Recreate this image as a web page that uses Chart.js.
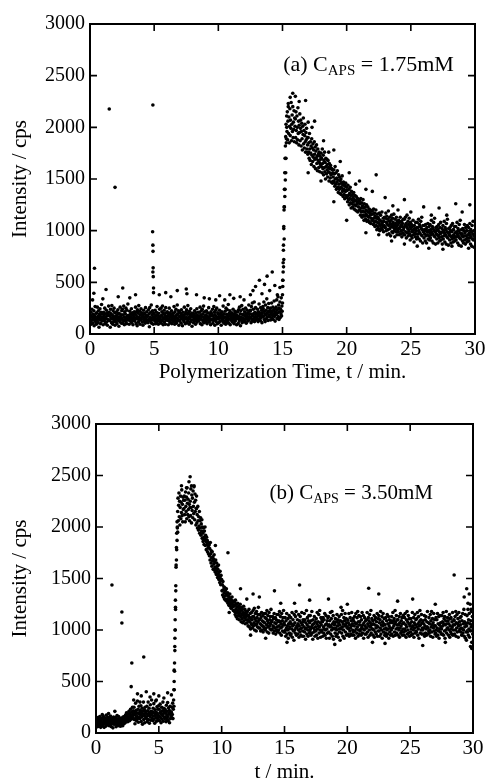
<!DOCTYPE html>
<html><head><meta charset="utf-8">
<script src="https://cdn.jsdelivr.net/npm/chart.js@4.4.1/dist/chart.umd.min.js"></script>
<style>
html,body{margin:0;padding:0;background:#fff;overflow:hidden;width:488px;height:779px;}
#ca{position:absolute;left:0;top:0;}
#cb{position:absolute;left:0;top:390px;}
</style></head><body>
<canvas id="ca" width="488" height="390"></canvas>
<canvas id="cb" width="488" height="400"></canvas>
<script>
// ---------- DATA ----------
// Tick labels
const timeTicks = [0, 5, 10, 15, 20, 25, 30];
const intensityTicks = [0, 500, 1000, 1500, 2000, 2500, 3000];

// Panel (a): C_APS = 1.75 mM. One row per minute (row m covers t = m ... m+1, samples evenly spaced).
const intensityA = [
[150,185,120,210,95,170,240,135,160,105,190,145,225,80,175,130,265,155,115,200, 95,205,140,260,170,110,225,155,65,190,135,245,175,100,210,150,285,125,195,160],
[165,90,210,140,185,125,250,160,100,195,150,230,115,175,85,205,140,180,270,130, 210,130,175,65,240,155,195,110,275,145,180,95,225,160,120,250,140,205,85,170],
[120,175,155,215,100,145,190,235,130,165,75,200,150,120,260,170,140,185,105,225, 150,240,105,185,130,270,165,90,215,140,195,120,250,160,100,230,175,135,290,145],
[180,135,95,160,220,150,125,195,170,245,110,155,140,205,90,185,130,165,215,150, 125,190,260,150,100,215,170,80,235,145,200,115,275,165,130,220,95,185,150,245],
[140,205,165,115,190,85,175,230,150,125,200,160,105,255,145,180,120,215,170,135, 175,110,235,140,195,70,255,160,125,210,150,280,105,185,135,225,165,95,200,145],
[190,160,125,230,150,100,175,210,140,265,120,185,155,95,200,170,135,240,160,115, 140,250,105,180,215,130,270,160,90,200,145,230,115,185,160,95,255,135,205,170],
[155,215,130,175,90,195,145,250,120,165,205,110,180,140,225,100,160,190,130,175, 200,120,265,150,95,215,170,130,240,105,185,155,280,125,195,140,225,85,170,210],
[125,170,200,145,105,235,160,185,80,150,210,135,175,120,260,155,190,100,145,215, 160,235,110,190,140,275,125,205,165,95,220,150,185,115,245,170,135,200,75,180],
[200,135,165,110,190,150,225,125,175,95,205,160,140,245,115,180,150,210,130,170, 130,210,150,260,100,185,145,225,170,90,240,135,195,120,270,160,110,215,175,140],
[160,120,185,225,140,100,170,205,150,130,255,165,115,195,145,175,90,215,135,180, 195,145,240,105,175,130,265,155,210,85,185,140,230,120,170,250,150,100,205,160],
[145,190,110,165,230,155,125,200,175,85,160,215,140,180,120,270,150,195,105,165, 120,220,165,95,250,140,190,110,235,160,130,285,175,105,200,145,225,90,180,155],
[170,130,205,150,115,185,240,140,165,100,195,155,220,125,175,145,210,90,180,160, 215,150,100,235,170,125,260,145,195,80,225,165,135,275,110,190,155,240,120,185],
[185,140,215,120,175,250,160,105,195,145,230,170,125,205,155,280,135,190,165,220, 230,160,110,265,190,140,300,175,125,240,195,150,310,120,210,170,255,135,195,160],
[200,150,240,175,120,215,185,290,145,205,170,130,255,190,160,230,110,205,175,265, 245,170,310,140,220,195,120,280,185,230,150,340,200,165,255,130,215,295,180,225],
[210,165,250,135,225,190,300,155,215,180,260,140,230,195,320,170,245,125,215,190, 260,190,330,150,235,205,360,170,280,140,250,215,310,160,240,195,350,175,270,220],
[380,520,690,860,1040,1230,1400,1560,1700,1820,1910,2030,1890,2110,1960, 2150,1880,2060,2230,1940,2100,1850,2010,2180,1920,2070,1990,2240,1870,2030,2120,1960,2200,1900,2050,1980,2160,1860,2090,2010],
[2080,1900,2150,1970,1850,2110,2000,1880,2190,1940,2060,1830,2020,1950,2130,1870,1990,2070,1820,1960, 2040,1890,1780,2010,1930,2090,1840,1970,1800,1920,2030,1860,1760,1950,1880,1990,1790,1900,1830,1740],
[1900,1760,1850,1700,1940,1790,1680,1860,1750,1820,1640,1890,1730,1800,1670,1840,1710,1780,1620,1860, 1740,1690,1810,1600,1770,1700,1830,1650,1720,1580,1790,1680,1740,1610,1760,1660,1570,1720,1640,1690],
[1750,1620,1700,1560,1790,1650,1600,1730,1540,1680,1610,1760,1570,1660,1500,1700,1620,1550,1690,1590, 1640,1520,1680,1570,1610,1480,1650,1560,1600,1510,1630,1540,1470,1600,1550,1590,1460,1560,1520,1480],
[1590,1470,1550,1430,1620,1500,1450,1560,1400,1510,1470,1580,1420,1490,1370,1540,1450,1400,1520,1360, 1480,1420,1500,1350,1460,1410,1530,1380,1440,1330,1470,1400,1350,1450,1310,1430,1380,1460,1340,1390],
[1420,1320,1390,1280,1440,1340,1300,1400,1250,1360,1310,1420,1270,1340,1220,1380,1300,1260,1350,1230, 1320,1280,1370,1210,1300,1250,1340,1200,1290,1240,1330,1190,1280,1260,1310,1180,1270,1230,1300,1200],
[1290,1200,1260,1150,1310,1220,1180,1270,1130,1240,1190,1300,1150,1220,1100,1260,1180,1140,1230,1110, 1200,1160,1250,1090,1190,1140,1230,1100,1180,1130,1210,1080,1170,1150,1200,1070,1160,1120,1190,1100],
[1190,1100,1160,1060,1210,1120,1080,1170,1040,1140,1090,1200,1050,1120,1010,1160,1080,1040,1130,1020, 1110,1070,1170,1000,1100,1050,1150,1020,1090,1060,1180,1010,1080,1040,1120,990,1090,1050,1130,1030],
[1120,1030,1170,1000,1080,1140,960,1060,1110,1010,1190,1050,970,1090,1130,1020,1070,950,1100,1040, 1150,990,1060,1120,980,1080,1030,1160,1000,1050,940,1110,1020,1070,990,1130,1040,960,1090,1010],
[1060,990,1100,1020,960,1080,1030,1130,970,1050,1000,1090,940,1040,1070,980,1110,1010,960,1030, 1110,960,1050,1130,990,1070,930,1040,1150,980,1020,1090,950,1060,1000,1120,970,1040,910,1080],
[1020,950,1060,990,930,1040,1000,1100,960,1010,890,1050,980,1020,940,1080,970,1000,920,1030, 1080,940,1030,970,1110,1000,920,1060,980,1040,900,1090,960,1020,1130,950,1010,880,1050,990],
[990,930,1050,970,1010,900,1060,950,1000,880,1030,960,990,1070,920,1000,950,1040,910,980, 1060,930,1010,960,1100,990,900,1040,970,1020,880,1080,950,1000,1120,940,990,870,1030,970],
[1000,920,1040,960,880,1010,950,1060,930,990,900,1030,970,1080,910,980,940,1020,870,990, 1050,920,1000,950,1090,980,890,1030,960,1010,870,1070,940,990,1110,930,980,860,1020,960],
[980,910,1030,950,1000,880,1050,940,990,920,1070,950,890,1010,960,930,1040,900,980,940, 1040,910,990,940,1080,970,880,1020,950,1000,860,1060,930,980,1100,920,970,850,1010,950],
[970,900,1020,940,880,1000,950,1060,910,980,870,1030,950,920,1000,890,1050,930,960,900, 1030,900,980,930,1070,960,870,1010,940,990,850,1050,920,970,1090,910,960,840,1000,940]
];
// Panel (a): scattered points read individually [t, intensity]
const extrasA = [
[1.5,2177],[4.9,2216],[1.95,1419],
[4.88,990],[4.9,860],[4.91,800],[4.92,640],[4.9,600],[4.93,555],[4.95,445],[4.95,400],
[0.35,636],[0.3,394],[0.2,330],[1.25,430],[2.55,445],[3.55,380],[5.4,380],[5.9,400],[6.3,360],
[7.5,435],[7.55,390],[8.9,350],[10.1,370],[10.5,330],[11.2,345],[12.0,330],[12.7,420],[12.9,460],
[13.2,520],[13.6,480],[13.8,560],[14.0,420],[14.2,600],[14.4,470],[14.6,380],[14.8,450],[13.4,390],
[12.5,380],[11.7,360],[9.3,340],[8.3,380],[6.8,420],[3.1,350],[2.2,360],[1.0,340],[9.8,330],[10.9,380],
[15.0,300],[15.02,520],[15.05,600],[15.07,810],[15.1,720],[15.1,1020],[15.12,1200],[15.15,1230],
[15.18,1330],[15.2,1400],[15.22,1490],[15.25,1560],[15.27,1700],[15.3,1850],[15.33,2000],[15.02,460],
[15.08,650],[15.13,920],
[15.6,2290],[15.8,2330],[16.0,2300],[16.3,2250],[16.8,2260],[15.45,2200],[17.0,2050],[17.3,2000],
[17.5,2060],[18.2,1870],[19.0,1780],[19.5,1670],[20.2,1560],[21.0,1480],[22.3,1540],[23.0,1320],
[22.0,1380],[24.5,1300],[25.0,1180],[26.0,1230],[27.2,1220],[27.8,1150],[28.5,1260],[29.0,1180],
[29.6,1250],[24.0,1200],[21.5,1400],[20.7,1450],[18.6,1760],[23.6,1240],[26.6,1150],[20.0,1100],
[19.0,1280],[18.0,1480],[17.0,1560],[21.5,980],[22.5,960],[25.5,850],[27.5,820],[29.5,830],
[23.5,900],[24.5,870],[28.2,850],[26.4,830]
];

// Panel (b): C_APS = 3.50 mM
const intensityB = [
[110,80,140,95,125,60,150,100,85,130,70,115,160,90,120,55,135,105,75,145, 70,135,100,165,85,120,55,150,110,95,140,65,125,175,90,115,80,155,105,130],
[100,130,70,145,90,115,165,80,120,60,105,140,95,125,50,110,155,85,130,100, 125,85,150,105,60,140,95,170,115,75,130,100,160,70,120,145,90,110,65,135],
[100,130,80,145,115,70,155,105,125,90,160,120,140,100,175,115,135,195,125,160, 145,110,185,150,130,210,160,120,190,145,230,155,175,135,205,165,250,150,185,215],
[175,250,130,205,90,180,290,150,220,120,195,160,310,140,230,105,185,260,150,200, 140,220,175,265,110,195,155,240,85,210,170,300,130,185,225,100,250,160,205,145],
[190,140,260,110,215,170,300,130,185,240,95,200,160,275,125,210,180,320,145,195, 205,120,240,165,285,135,195,95,225,175,310,150,200,115,255,185,140,230,170,265],
[160,230,120,195,280,150,205,100,180,250,135,215,170,300,115,190,240,155,210,140, 230,150,195,110,270,175,210,135,295,160,120,245,190,220,100,185,260,140,205,170],
[200,150,250,180,290,140,230,320,260,420,600,800,1000,1220,1430,1630,1800,1940,2050,1990, 2150,2280,2060,2210,2330,2100,2250,2020,2190,2300,2080,2240,2140,2360,2110,2220,2050,2290,2170,2260],
[2180,2300,2120,2260,2050,2340,2200,2150,2290,2080,2380,2230,2120,2270,2170,2330,2100,2220,2060,2190, 2250,2110,2370,2190,2040,2310,2160,2280,2090,2350,2200,2130,2400,2240,2070,2320,2150,2260,2020,2180],
[2180,2040,2120,1990,2200,2060,1970,2100,2010,2150,1940,2060,1990,2090,1920,2030,1960,2070,1890,2000, 1940,1860,1990,1900,1830,1960,1880,2000,1820,1920,1860,1780,1900,1830,1870,1760,1850,1800,1740,1820],
[1830,1720,1790,1680,1850,1740,1650,1770,1700,1620,1760,1670,1710,1590,1690,1640,1730,1580,1660,1610, 1560,1680,1600,1540,1650,1570,1620,1510,1590,1540,1630,1490,1560,1520,1460,1570,1500,1440,1530,1480],
[1490,1380,1440,1340,1470,1390,1320,1420,1360,1300,1410,1330,1380,1290,1350,1400,1280,1340,1300,1360, 1260,1330,1290,1240,1320,1270,1350,1230,1300,1250,1210,1290,1260,1320,1220,1270,1240,1190,1280,1230],
[1270,1180,1240,1150,1290,1200,1130,1250,1170,1220,1110,1260,1190,1140,1230,1160,1100,1210,1170,1250, 1130,1190,1080,1220,1150,1110,1200,1070,1170,1140,1230,1090,1160,1120,1200,1060,1150,1180,1100,1130],
[1150,1070,1180,1100,1040,1140,1090,1200,1030,1120,1080,1160,1010,1110,1060,1170,1050,1100,1020,1130, 1190,1040,1130,1070,1210,1000,1110,1160,1050,1090,990,1180,1060,1120,1030,1150,1080,1220,1020,1100],
[1100,1020,1150,1060,990,1120,1050,1170,1000,1090,1040,1140,980,1080,1030,1160,1010,1070,1120,1000, 1160,1020,1110,1050,1190,980,1090,1140,1030,1070,970,1170,1040,1100,1010,1130,1060,1200,1000,1080],
[1090,1010,1130,1040,970,1110,1030,1160,990,1070,1020,1120,960,1060,1100,1000,1150,1030,980,1080, 1150,1000,1090,1040,1180,970,1080,1130,1020,1060,950,1160,1030,1090,990,1120,1050,1190,980,1070],
[1050,980,1120,1000,940,1090,1020,1160,960,1040,1000,1110,920,1060,1010,1140,970,1030,1080,950, 1120,960,1060,1010,1170,930,1040,1100,990,1050,900,1150,1000,1070,970,1130,1020,1180,950,1040],
[1020,1100,960,1060,1000,1150,930,1040,1090,980,1130,1010,950,1070,1020,1170,940,1050,990,1100, 1080,940,1030,1160,980,1100,1010,910,1070,1020,1190,960,1050,1120,1000,940,1090,1030,1140,970],
[1070,990,1140,1010,950,1090,1030,1180,970,1050,910,1100,1020,1060,980,1130,1000,940,1080,1030, 990,1110,950,1060,1170,1010,920,1080,1040,1150,970,1030,1190,1000,1070,930,1120,1050,980,1100],
[1000,1080,940,1120,1030,970,1100,1010,1160,950,1050,1000,1140,920,1060,1010,1090,970,1120,1040, 1130,980,1050,920,1090,1030,1170,960,1040,1110,1000,1180,940,1060,1020,1140,910,1080,1010,1050],
[1060,970,1110,1020,940,1080,1000,1150,960,1040,1100,930,1070,1010,1130,980,1050,900,1090,1020, 1010,1150,970,1080,1030,1190,940,1060,1000,1120,920,1090,1040,1160,980,1050,1110,950,1070,1020],
[1030,1100,960,1070,1010,1160,940,1050,990,1120,1020,960,1090,1040,1170,950,1060,1000,1110,980, 1090,950,1040,1130,990,1070,920,1160,1010,1060,970,1120,1030,1180,940,1080,1000,1140,960,1050],
[1080,990,1130,1010,950,1100,1030,1170,970,1050,1010,1140,920,1070,1000,1120,960,1040,1090,1020, 960,1100,1020,1170,980,1060,930,1120,1040,1090,1000,1150,950,1070,1030,1190,970,1050,1110,1010],
[1010,1090,950,1060,1000,1140,930,1050,1100,980,1120,1020,960,1080,1040,1160,940,1030,990,1110, 1140,990,1070,940,1100,1020,1180,960,1050,1000,1130,920,1080,1040,1160,980,1060,1110,1010,950],
[1050,970,1120,1020,940,1090,1000,1150,960,1060,1010,1130,920,1040,1100,980,1070,1020,950,1090, 1000,1130,960,1070,1020,1170,940,1090,1040,1110,980,1060,1190,950,1080,1010,1140,970,1050,1100],
[1020,1100,950,1050,1000,1130,930,1070,1020,1160,970,1040,1090,990,1120,950,1060,1010,1140,980, 1070,950,1120,1010,1160,990,1050,930,1100,1030,1180,960,1080,1000,1140,970,1060,1110,940,1040],
[1060,980,1110,1010,950,1080,1030,1170,960,1040,1000,1120,930,1070,1020,1150,970,1050,1100,990, 980,1110,1030,1170,950,1060,1010,1130,920,1080,1040,1190,970,1050,1100,1000,1150,960,1070,1020],
[1000,1090,960,1060,1020,1140,940,1040,1100,970,1130,1010,950,1080,1030,1180,960,1020,1070,990, 1120,970,1060,1000,1150,940,1090,1030,1180,980,1050,1110,930,1070,1020,1160,990,1040,1100,960],
[1040,970,1120,1000,940,1100,1020,1160,950,1060,990,1130,920,1050,1010,1140,980,1070,1030,960, 1010,1140,960,1080,1040,1170,950,1060,1110,990,1130,920,1050,1090,1000,1180,970,1060,1020,1120],
[1020,1090,950,1060,1000,1150,930,1040,1110,980,1120,1010,960,1080,1030,1170,950,1050,1000,1100, 1090,960,1050,1130,1000,1180,940,1070,1020,1150,980,1060,1110,930,1040,1170,990,1080,1010,1120],
[1050,980,1130,1020,950,1090,1010,1160,970,1060,1000,1200,940,1080,1030,1150,920,1060,980,900, 1040,1140,980,1070,1200,950,1100,1010,1160,930,1060,1250,990,1090,1030,1180,880,1050,1130,960]
];
const extrasB = [
[1.27,1437],[2.06,1175],[2.06,1068],[2.85,680],[3.8,738],[2.8,450],[3.0,320],[3.3,380],[3.6,360],
[4.0,400],[4.3,350],[4.6,380],[5.0,360],[5.4,340],[5.7,390],[6.0,370],[3.5,300],[4.8,320],[1.0,190],
[1.5,210],[0.5,180],
[6.2,420],[6.22,610],[6.25,680],[6.27,840],[6.3,1000],[6.3,1100],[6.32,1290],[6.35,1380],[6.37,1610],
[6.4,1680],[6.42,1780],[6.45,1870],[6.47,2000],[6.5,1950],[6.22,500],[6.28,920],[6.33,1200],
[7.49,2488],[7.4,2440],[7.6,2400],[7.2,2380],[7.8,2390],[8.0,2300],[6.8,2400],
[9.5,1820],[10.5,1750],[10.6,1170],[11.5,1400],[12.0,1300],[12.5,1350],[13.0,1320],[12.3,950],
[13.5,920],[14.2,1380],[14.7,1260],[15.2,880],[16.2,1437],[17.0,1290],[18.5,1300],[19.0,860],
[20.0,1250],[21.7,1405],[22.5,1350],[23.0,870],[24.0,1280],[25.2,1300],[26.0,850],[27.0,1250],
[28.5,1534],[29.3,1320],[29.5,1400],[29.6,1260],[29.7,1350],[29.8,840],[29.9,820],[29.85,1200],
[15.8,1260],[19.5,1220],[22.0,880],[27.8,880]
];

// Texts
const noteA = {pre: '(a) C', sub: 'APS', post: ' = 1.75mM'};
const noteB = {pre: '(b) C', sub: 'APS', post: ' = 3.50mM'};
const yTitle = 'Intensity / cps';
const xTitleA = 'Polymerization Time, t / min.';
const xTitleB = 't / min.';

// ---------- CHART ----------
const SERIF = '"Liberation Serif", "Times New Roman", serif';

function buildPoints(rows, extras) {
  const pts = [];
  rows.forEach((row, m) => row.forEach((v, j) => pts.push({x: m + j / row.length, y: v})));
  extras.forEach(([t, v]) => pts.push({x: t, y: v}));
  return pts;
}

const framePlugin = {
  id: 'frame',
  afterDatasetsDraw(chart, args, o) {
    const {ctx, chartArea: a, scales: {x, y}} = chart;
    ctx.save();
    ctx.strokeStyle = '#000';
    ctx.lineWidth = 2;
    ctx.strokeRect(a.left, a.top, a.right - a.left, a.bottom - a.top);
    ctx.lineWidth = 1.6;
    const L = 7;
    ctx.beginPath();
    timeTicks.forEach(t => {
      const px = x.getPixelForValue(t);
      ctx.moveTo(px, a.bottom); ctx.lineTo(px, a.bottom - L);
      ctx.moveTo(px, a.top); ctx.lineTo(px, a.top + L);
    });
    intensityTicks.forEach(v => {
      const py = y.getPixelForValue(v);
      ctx.moveTo(a.left, py); ctx.lineTo(a.left + L, py);
      ctx.moveTo(a.right, py); ctx.lineTo(a.right - L, py);
    });
    ctx.stroke();
    const n = o.note;
    let px = x.getPixelForValue(o.at[0]);
    const py = y.getPixelForValue(o.at[1]);
    ctx.fillStyle = '#000';
    ctx.textBaseline = 'alphabetic';
    ctx.textAlign = 'left';
    ctx.font = o.size + 'px ' + SERIF;
    ctx.fillText(n.pre, px, py); px += ctx.measureText(n.pre).width;
    ctx.font = Math.round(o.size * 0.66) + 'px ' + SERIF;
    ctx.fillText(n.sub, px, py + 4); px += ctx.measureText(n.sub).width;
    ctx.font = o.size + 'px ' + SERIF;
    ctx.fillText(n.post, px, py);
    ctx.restore();
  }
};

function makeChart(id, rows, extras, cfg) {
  return new Chart(document.getElementById(id), {
    type: 'scatter',
    data: {datasets: [{
      data: buildPoints(rows, extras),
      pointRadius: 1.8, pointHoverRadius: 1.8,
      backgroundColor: '#000', borderWidth: 0, showLine: false
    }]},
    options: {
      responsive: false, animation: false,
      layout: {padding: {top: cfg.top, left: 0, right: cfg.right, bottom: 0}},
      plugins: {legend: {display: false}, tooltip: {enabled: false},
        frame: {note: cfg.note, at: cfg.at, size: cfg.noteSize}},
      scales: {
        x: {type: 'linear', min: 0, max: 30, position: 'bottom',
          grid: {display: false, drawTicks: false}, border: {display: false},
          ticks: {stepSize: 5, color: '#000', font: {family: SERIF, size: 21}, padding: 3, maxRotation: 0, autoSkip: false,
            callback: v => String(v)},
          title: {display: true, text: cfg.xTitle, color: '#000', font: {family: SERIF, size: 21}, padding: {top: 0, bottom: 5}},
          afterFit(s) { s.height = cfg.xh; s.paddingLeft = 0; s.paddingRight = 0; }
        },
        y: {type: 'linear', min: 0, max: 3000, position: 'left',
          grid: {display: false, drawTicks: false}, border: {display: false},
          ticks: {stepSize: 500, color: '#000', font: {family: SERIF, size: 20}, padding: 5, autoSkip: false,
            callback: v => String(v)},
          title: {display: true, text: yTitle, color: '#000', font: {family: SERIF, size: 21}, padding: {top: 8, bottom: 0}},
          afterFit(s) { s.width = cfg.yw; s.paddingTop = 0; s.paddingBottom = 0; }
        }
      }
    },
    plugins: [framePlugin]
  });
}

makeChart('ca', intensityA, extrasA, {top: 24, right: 13, xh: 56, yw: 90, xTitle: xTitleA, note: noteA, at: [15.05, 2545], noteSize: 22});
makeChart('cb', intensityB, extrasB, {top: 34, right: 15, xh: 57, yw: 96, xTitle: xTitleB, note: noteB, at: [13.8, 2270], noteSize: 21});
</script>
</body></html>
